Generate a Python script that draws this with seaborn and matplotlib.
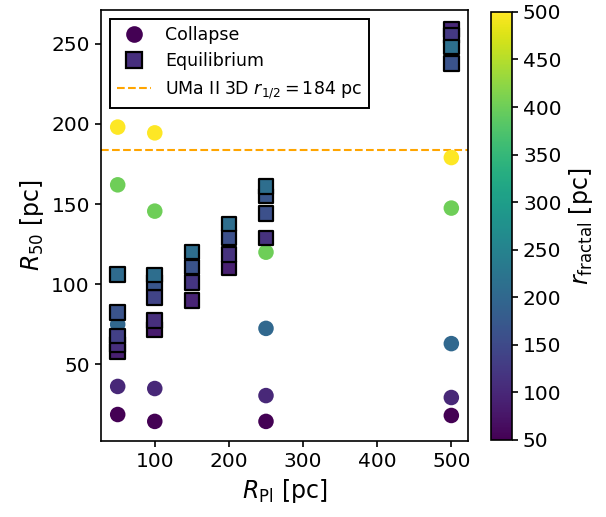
import matplotlib
matplotlib.use("Agg")
import numpy as np
import pandas as pd
import matplotlib.pyplot as plt
from matplotlib.colors import Normalize
from matplotlib.cm import ScalarMappable
from matplotlib.lines import Line2D
import seaborn as sns

# --- data ---
collapse_rpl = [50, 50, 50, 50, 50,
                100, 100, 100, 100,
                250, 250, 250, 250,
                500, 500, 500, 500, 500]
collapse_r50 = [198, 162, 75, 36.3, 18.8,
                194.4, 145.6, 35, 14.5,
                120, 72.5, 30.6, 14.5,
                179, 147.5, 63, 29.4, 18.2]
collapse_rfrac = [500, 400, 200, 100, 50,
                  500, 400, 100, 50,
                  400, 200, 100, 50,
                  500, 400, 200, 100, 50]

equil_rpl = [50, 50, 50, 50, 50,
             100, 100, 100, 100, 100,
             150, 150, 150, 150,
             200, 200, 200, 200,
             250, 250, 250, 250,
             500, 500, 500, 500]
equil_r50 = [58.1, 62.3, 67.7, 82.3, 106,
             71.9, 77.5, 91.7, 101, 105.8,
             90, 101, 110.8, 120.2,
             110.2, 118.5, 129.2, 137.7,
             128.8, 144.2, 155, 160.8,
             258.8, 255.2, 237.5, 248]
equil_rfrac = [90, 110, 135, 165, 205,
               85, 110, 140, 170, 210,
               95, 120, 165, 210,
               90, 115, 160, 210,
               115, 160, 170, 210,
               100, 125, 165, 215]

uma2_r_half = 184
rfrac_min, rfrac_max = 50, 500

df_col = pd.DataFrame({"rpl": collapse_rpl, "r50": collapse_r50, "rf": collapse_rfrac})
df_eq = pd.DataFrame({"rpl": equil_rpl, "r50": equil_r50, "rf": equil_rfrac})

plt.rcParams["axes.linewidth"] = 1.2
plt.rcParams["xtick.major.width"] = 1.2
plt.rcParams["ytick.major.width"] = 1.2
plt.rcParams["xtick.major.size"] = 4.5
plt.rcParams["ytick.major.size"] = 4.5

norm = Normalize(vmin=rfrac_min, vmax=rfrac_max)
cmap = plt.get_cmap("viridis")

fig = plt.figure(figsize=(6.06, 5.17), dpi=100)
ax = fig.add_axes([0.1667, 0.147, 0.6056, 0.8337])
cax = fig.add_axes([0.810, 0.149, 0.0347, 0.828])

sns.scatterplot(data=df_col, x="rpl", y="r50", hue="rf", palette="viridis",
                hue_norm=(rfrac_min, rfrac_max), marker="o", s=125,
                edgecolor="none", legend=False, ax=ax, zorder=2)
sns.scatterplot(data=df_eq, x="rpl", y="r50", hue="rf", palette="viridis",
                hue_norm=(rfrac_min, rfrac_max), marker="s", s=110,
                edgecolor="k", linewidth=1.6, legend=False, ax=ax, zorder=3)
ax.axhline(uma2_r_half, color="orange", ls="--", lw=1.5, zorder=1)

ax.set_xlabel(r"$R_{\rm Pl}$ [pc]", fontsize=17)
ax.set_ylabel(r"$R_{50}$ [pc]", fontsize=17)
ax.tick_params(labelsize=14.5)

handles = [
    Line2D([], [], marker="o", ls="none", markersize=12,
           markerfacecolor=cmap(norm(50)), markeredgecolor="none"),
    Line2D([], [], marker="s", ls="none", markersize=11,
           markerfacecolor=cmap(norm(110)), markeredgecolor="k", markeredgewidth=1.6),
    Line2D([], [], color="orange", ls="--", lw=1.5),
]
labels = ["Collapse", "Equilibrium", r"UMa II 3D $r_{1/2} = 184$ pc"]
leg = ax.legend(handles, labels, loc="upper left", fontsize=12.5,
                fancybox=False, edgecolor="k", framealpha=1)
leg.get_frame().set_linewidth(1.4)

cb = fig.colorbar(ScalarMappable(norm=norm, cmap=cmap), cax=cax)
cb.set_ticks(np.arange(50, 501, 50))
cb.ax.tick_params(labelsize=14.5)
cb.outline.set_linewidth(1.2)
cb.set_label(r"$r_{\rm fractal}$ [pc]", fontsize=17)

fig.savefig("out.png", dpi=100)
